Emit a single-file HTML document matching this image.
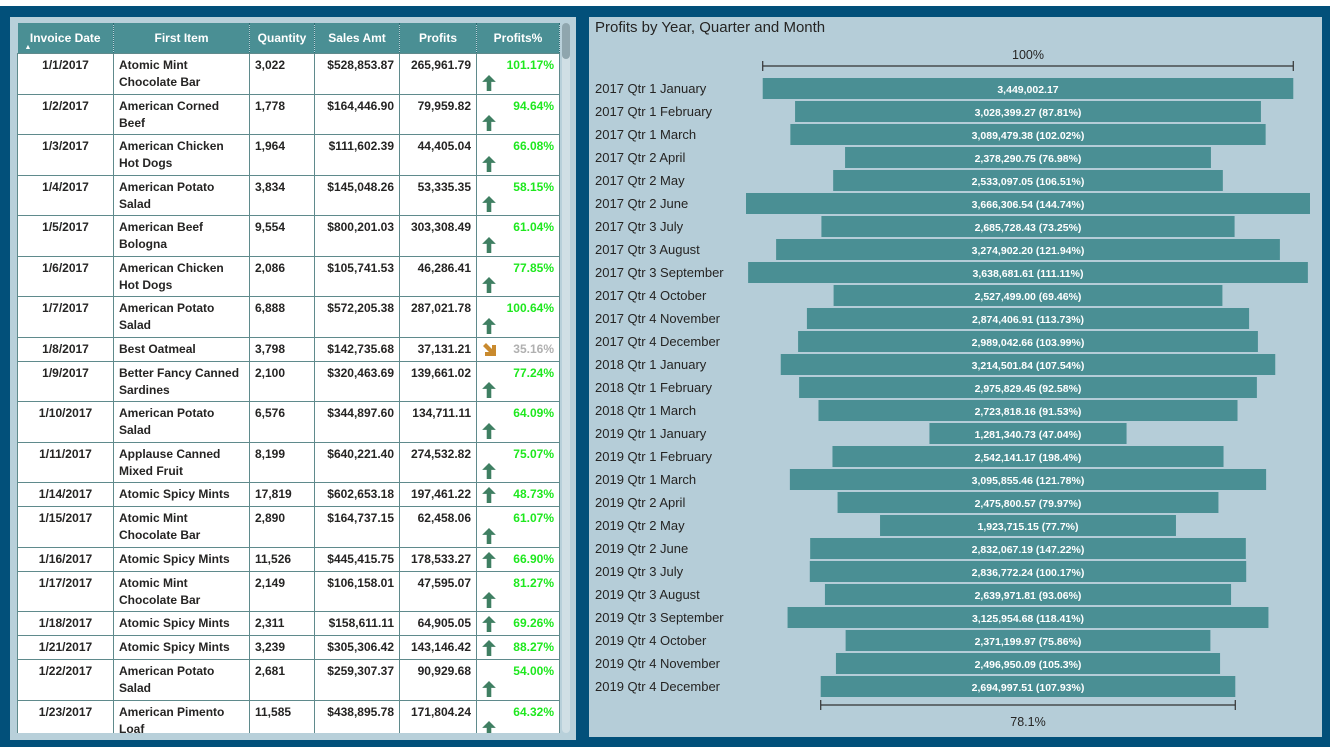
<!DOCTYPE html>
<html><head><meta charset="utf-8">
<style>
body{margin:0;width:1330px;height:747px;background:#02507a;position:relative;overflow:hidden;font-family:"Liberation Sans",sans-serif}
#top{position:absolute;left:0;top:0;width:1330px;height:6px;background:#fff}
#lp{position:absolute;left:10px;top:17px;width:566px;height:723px;background:#b8d0da}
#wrap{position:absolute;left:17px;top:23px;width:543px;height:710px;overflow:hidden}
#tbl{position:absolute;left:0;top:0;width:542px;border-collapse:collapse;font-size:12px;font-weight:bold;color:#252423;table-layout:fixed}
#tbl th{background:#4a8f94;color:#fff;height:30px;padding:0 4px;vertical-align:middle;border-right:1px dotted #2d6f74;font-size:12px;position:relative}
#tbl td{background:#fff;border:1px solid #5f8a8c;padding:3px 5px 0;vertical-align:top;line-height:17px;position:relative;white-space:nowrap}
#tbl td.c{text-align:center}
#tbl td.r{text-align:right}
#tbl td.p{text-align:right;color:#1ee81e}
#tbl td.g{color:#b0b0b0}
.up{position:absolute;left:5px;bottom:3px;width:14px;height:16px}
.dn{position:absolute;left:6px;top:5px;width:13px;height:13px}
#sb{position:absolute;left:562px;top:23px;width:8px;height:710px;background:#d0dfe5;border-radius:4px}
#sbt{position:absolute;left:562px;top:23px;width:8px;height:36px;background:#8fa6ae;border-radius:4px}
#rp{position:absolute;left:589px;top:17px;width:733px;height:720px;background:#b5cdd8}
#title{position:absolute;left:595px;top:19px;font-size:15px;color:#252423}
</style></head><body>
<div id="top"></div>
<div id="lp"></div>
<div id="wrap">
<table id="tbl">
<colgroup><col style="width:96px"><col style="width:136px"><col style="width:65px"><col style="width:85px"><col style="width:77px"><col style="width:83px"></colgroup>
<thead><tr>
<th>Invoice Date<span style="position:absolute;left:7px;bottom:2px;font-size:7px">▲</span></th>
<th>First Item</th>
<th>Quantity</th>
<th>Sales Amt</th>
<th>Profits</th>
<th>Profits%</th>
</tr></thead>
<tbody id="tb"></tbody>
</table>
</div>
<div id="sb"></div>
<div id="sbt"></div>
<div id="rp"></div>
<div id="title">Profits by Year, Quarter and Month</div>
<svg id="ch" width="1330" height="747" style="position:absolute;left:0;top:0"></svg>
<script>
const rows=[
["1/1/2017","Atomic Mint<br>Chocolate Bar","3,022","$528,853.87","265,961.79","101.17%",2,1],
["1/2/2017","American Corned<br>Beef","1,778","$164,446.90","79,959.82","94.64%",2,1],
["1/3/2017","American Chicken<br>Hot Dogs","1,964","$111,602.39","44,405.04","66.08%",2,1],
["1/4/2017","American Potato<br>Salad","3,834","$145,048.26","53,335.35","58.15%",2,1],
["1/5/2017","American Beef<br>Bologna","9,554","$800,201.03","303,308.49","61.04%",2,1],
["1/6/2017","American Chicken<br>Hot Dogs","2,086","$105,741.53","46,286.41","77.85%",2,1],
["1/7/2017","American Potato<br>Salad","6,888","$572,205.38","287,021.78","100.64%",2,1],
["1/8/2017","Best Oatmeal","3,798","$142,735.68","37,131.21","35.16%",1,0],
["1/9/2017","Better Fancy Canned<br>Sardines","2,100","$320,463.69","139,661.02","77.24%",2,1],
["1/10/2017","American Potato<br>Salad","6,576","$344,897.60","134,711.11","64.09%",2,1],
["1/11/2017","Applause Canned<br>Mixed Fruit","8,199","$640,221.40","274,532.82","75.07%",2,1],
["1/14/2017","Atomic Spicy Mints","17,819","$602,653.18","197,461.22","48.73%",1,1],
["1/15/2017","Atomic Mint<br>Chocolate Bar","2,890","$164,737.15","62,458.06","61.07%",2,1],
["1/16/2017","Atomic Spicy Mints","11,526","$445,415.75","178,533.27","66.90%",1,1],
["1/17/2017","Atomic Mint<br>Chocolate Bar","2,149","$106,158.01","47,595.07","81.27%",2,1],
["1/18/2017","Atomic Spicy Mints","2,311","$158,611.11","64,905.05","69.26%",1,1],
["1/21/2017","Atomic Spicy Mints","3,239","$305,306.42","143,146.42","88.27%",1,1],
["1/22/2017","American Potato<br>Salad","2,681","$259,307.37","90,929.68","54.00%",2,1],
["1/23/2017","American Pimento<br>Loaf","11,585","$438,895.78","171,804.24","64.32%",2,1]];
const tb=document.getElementById('tb');
const upSvg='<svg class="up" viewBox="0 0 12 14"><path d="M6 0L12 6H8V14H4V6H0Z" fill="#3f7f62"/></svg>';
const dnSvg='<svg class="dn" viewBox="0 0 13 13"><path d="M0 3L3 0L9 6V2H13V13H2V9H6Z" fill="#c98a2e"/></svg>';
rows.forEach(r=>{
 const tr=document.createElement('tr');
 
 
 tr.style.height=(r[6]==2?40.5:24)+'px';
 const arrow=r[7]?upSvg:dnSvg;
 tr.innerHTML=`<td class="c">${r[0]}</td><td>${r[1]}</td><td>${r[2]}</td><td class="r">${r[3]}</td><td class="r">${r[4]}</td><td class="p${r[7]?'':' g'}">${arrow}${r[5]}</td>`;
 tb.appendChild(tr);
});
</script>
<script>
const categories=["2017 Qtr 1 January","2017 Qtr 1 February","2017 Qtr 1 March","2017 Qtr 2 April","2017 Qtr 2 May","2017 Qtr 2 June","2017 Qtr 3 July","2017 Qtr 3 August","2017 Qtr 3 September","2017 Qtr 4 October","2017 Qtr 4 November","2017 Qtr 4 December","2018 Qtr 1 January","2018 Qtr 1 February","2018 Qtr 1 March","2019 Qtr 1 January","2019 Qtr 1 February","2019 Qtr 1 March","2019 Qtr 2 April","2019 Qtr 2 May","2019 Qtr 2 June","2019 Qtr 3 July","2019 Qtr 3 August","2019 Qtr 3 September","2019 Qtr 4 October","2019 Qtr 4 November","2019 Qtr 4 December"];
const values=[3449002.17,3028399.27,3089479.38,2378290.75,2533097.05,3666306.54,2685728.43,3274902.20,3638681.61,2527499.00,2874406.91,2989042.66,3214501.84,2975829.45,2723818.16,1281340.73,2542141.17,3095855.46,2475800.57,1923715.15,2832067.19,2836772.24,2639971.81,3125954.68,2371199.97,2496950.09,2694997.51];
const pctLabels=["","87.81%","102.02%","76.98%","106.51%","144.74%","73.25%","121.94%","111.11%","69.46%","113.73%","103.99%","107.54%","92.58%","91.53%","47.04%","198.4%","121.78%","79.97%","77.7%","147.22%","100.17%","93.06%","118.41%","75.86%","105.3%","107.93%"];
const svg=document.getElementById('ch');const NS='http://www.w3.org/2000/svg';
const cx=1028, maxW=564, maxV=Math.max(...values);
const w=v=>v/maxV*maxW;
const y=i=>78+i*23;
function el(t,a,txt){const e=document.createElementNS(NS,t);for(const k in a)e.setAttribute(k,a[k]);if(txt!==undefined)e.textContent=txt;svg.appendChild(e);return e;}
const fmt=v=>v.toLocaleString('en-US',{minimumFractionDigits:2,maximumFractionDigits:2});
values.forEach((v,i)=>{
 const r=el('rect',{x:cx-w(v)/2,y:y(i),width:w(v),height:21,fill:'#4a8f94'});
 
 
 const l=el('text',{x:595,y:y(i)+15,'font-size':13,fill:'#252423'},categories[i]);
 
 
 const t=el('text',{x:cx,y:y(i)+15,'font-size':10.5,'font-weight':'bold',fill:'#fff','text-anchor':'middle'},fmt(v)+(pctLabels[i]?' ('+pctLabels[i]+')':''));
 
 
});
function axis(v,yy,ty,label,name){
 const g=el('g',{});
 const x1=cx-w(v)/2,x2=cx+w(v)/2;
 [[x1,yy,x2,yy],[x1,yy-5,x1,yy+5],[x2,yy-5,x2,yy+5]].forEach(c=>{const ln=document.createElementNS(NS,'line');ln.setAttribute('x1',c[0]);ln.setAttribute('y1',c[1]);ln.setAttribute('x2',c[2]);ln.setAttribute('y2',c[3]);ln.setAttribute('stroke','#333');ln.setAttribute('stroke-width','1.2');g.appendChild(ln);});
 el('text',{x:cx,y:ty,'font-size':12.5,fill:'#252423','text-anchor':'middle'},label);
}
axis(values[0],66,59,'100%','top-reference-axis');
const last=values[values.length-1];
axis(last,705,726,(last/values[0]*100).toFixed(1)+'%','bottom-reference-axis');
</script>
</body></html>
